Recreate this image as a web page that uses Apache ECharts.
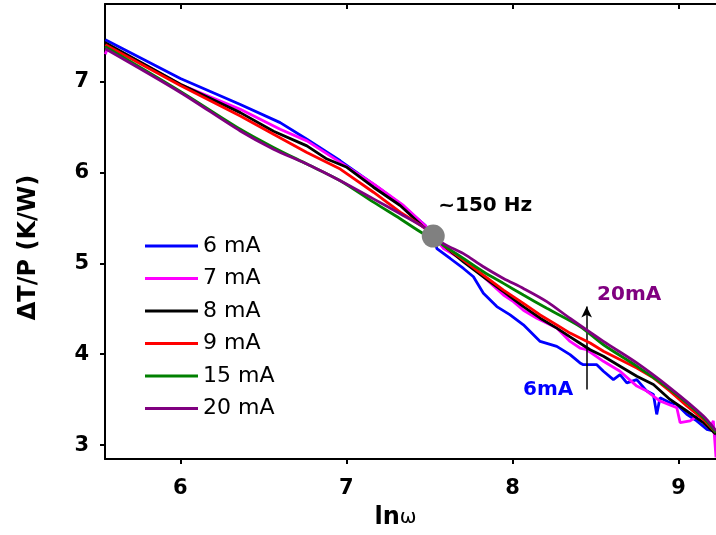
<!DOCTYPE html>
<html>
<head>
<meta charset="utf-8">
<script src="https://cdn.jsdelivr.net/npm/echarts@6/dist/echarts.min.js"></script>
<style>html,body{margin:0;padding:0;background:#fff;}#c{width:716px;height:535px;}</style>
</head>
<body>
<div id="c"></div>
<script>
// ---- data (ln(omega), dT/P in K/W) ----
const seriesNames = ['6 mA', '7 mA', '8 mA', '9 mA', '15 mA', '20 mA'];
const seriesColors = ['#0000ff', '#ff00ff', '#000000', '#ff0000', '#008000', '#800080'];
const seriesSmooth = [false, false, false, false, 0.3, 0.3];

const d6mA = [[5.548,7.460],[6.000,7.033],[6.361,6.748],[6.601,6.548],[6.762,6.365],[6.963,6.128],[7.203,5.818],[7.324,5.654],[7.474,5.417],[7.525,5.30],[7.545,5.162],[7.625,5.053],[7.705,4.943],[7.765,4.852],[7.825,4.670],[7.906,4.524],[7.986,4.432],[8.066,4.323],[8.167,4.141],[8.267,4.086],[8.347,3.995],[8.407,3.904],[8.427,3.885],[8.508,3.885],[8.548,3.813],[8.608,3.721],[8.648,3.776],[8.689,3.685],[8.749,3.721],[8.809,3.594],[8.849,3.557],[8.869,3.338],[8.889,3.521],[8.949,3.466],[8.990,3.447],[9.050,3.338],[9.110,3.266],[9.170,3.174],[9.210,3.156],[9.226,3.083]];
const d7mA = [[5.548,7.30],[5.565,7.39],[5.600,7.37],[6.000,6.967],[6.361,6.694],[6.601,6.475],[6.762,6.347],[6.963,6.110],[7.163,5.873],[7.344,5.636],[7.474,5.417],[7.525,5.30],[7.585,5.162],[7.705,5.034],[7.825,4.852],[7.946,4.651],[8.006,4.579],[8.066,4.484],[8.147,4.396],[8.267,4.287],[8.347,4.141],[8.407,4.068],[8.448,4.049],[8.548,3.922],[8.648,3.813],[8.749,3.649],[8.809,3.594],[8.889,3.485],[8.990,3.411],[9.010,3.247],[9.070,3.266],[9.130,3.338],[9.190,3.193],[9.210,3.266],[9.226,2.864]];
const d8mA = [[5.548,7.427],[6.000,6.970],[6.361,6.658],[6.561,6.454],[6.762,6.292],[6.883,6.147],[7.003,6.056],[7.163,5.837],[7.324,5.636],[7.464,5.400],[7.525,5.30],[7.585,5.198],[7.705,5.016],[7.825,4.852],[7.946,4.688],[8.066,4.524],[8.167,4.396],[8.267,4.287],[8.347,4.190],[8.407,4.120],[8.468,4.049],[8.548,3.977],[8.648,3.868],[8.749,3.758],[8.849,3.666],[8.949,3.502],[9.050,3.375],[9.150,3.247],[9.226,3.119]];
const d9mA = [[5.548,7.405],[6.000,6.956],[6.361,6.620],[6.561,6.420],[6.762,6.220],[6.963,6.037],[7.163,5.782],[7.324,5.563],[7.464,5.399],[7.525,5.30],[7.585,5.198],[7.705,5.034],[7.825,4.870],[7.946,4.705],[8.066,4.560],[8.167,4.432],[8.267,4.323],[8.347,4.232],[8.407,4.177],[8.468,4.123],[8.548,4.032],[8.749,3.849],[8.849,3.740],[8.949,3.594],[9.050,3.430],[9.150,3.283],[9.226,3.138]];
const d15mA = [[5.548,7.383],[6.000,6.891],[6.361,6.475],[6.561,6.275],[6.762,6.092],[6.963,5.909],[7.163,5.673],[7.324,5.490],[7.464,5.326],[7.525,5.28],[7.585,5.198],[7.705,5.053],[7.825,4.907],[7.946,4.779],[8.066,4.651],[8.207,4.505],[8.407,4.305],[8.548,4.104],[8.749,3.868],[8.949,3.612],[9.150,3.302],[9.226,3.138]];
const d20mA = [[5.548,7.361],[6.000,6.880],[6.361,6.456],[6.561,6.256],[6.762,6.092],[6.963,5.909],[7.163,5.709],[7.324,5.545],[7.464,5.399],[7.525,5.31],[7.585,5.217],[7.705,5.107],[7.825,4.962],[7.946,4.834],[8.066,4.724],[8.207,4.579],[8.350,4.390],[8.548,4.141],[8.749,3.904],[8.949,3.630],[9.150,3.320],[9.226,3.156]];
const allData = [d6mA, d7mA, d8mA, d9mA, d15mA, d20mA];

const xTicks = [6, 7, 8, 9];
const yTicks = [3, 4, 5, 6, 7];
const xRange = [5.546, 9.226];
const yRange = [2.847, 7.853];

const crossPoint = [[7.523, 5.30]];
const crossLabel = '~150 Hz';
const crossLabelPos = [[7.553, 5.632]];
const highLabel = '20mA';
const highLabelPos = [[8.510, 4.659]];
const lowLabel = '6mA';
const lowLabelPos = [[8.064, 3.603]];
const arrowFrom = [8.447, 3.612];
const arrowTo = [8.447, 4.524];

// ---- chart ----
const FONT = 'DejaVu Sans';
const chart = echarts.init(document.getElementById('c'), null, {renderer: 'canvas'});

const lineSeries = seriesNames.map((n, i) => ({
  name: n,
  type: 'line',
  data: allData[i],
  showSymbol: false,
  symbol: 'none',
  smooth: seriesSmooth[i],
  lineStyle: {color: seriesColors[i], width: 2.8},
  itemStyle: {color: seriesColors[i]},
  z: 2 + i,
  animation: false
}));

function textSeries(pos, text, color) {
  return {
    type: 'scatter', data: pos, symbolSize: 0, silent: true, animation: false, z: 20,
    itemStyle: {opacity: 1, color: color},
    label: {show: true, position: 'right', distance: 0, formatter: text, opacity: 1,
      fontFamily: FONT, fontWeight: 'bold', fontSize: 20, color: color}
  };
}

const option = {
  backgroundColor: '#fff',
  animation: false,
  grid: {left: 105, top: 4, right: 0, bottom: 73, containLabel: false},
  legend: {
    data: seriesNames,
    orient: 'vertical',
    left: 140, top: 230,
    icon: 'rect',
    itemWidth: 53, itemHeight: 3, itemGap: 10.5,
    textStyle: {fontFamily: FONT, fontSize: 22, lineHeight: 22, color: '#000'},
    selectedMode: false
  },
  xAxis: [{
    type: 'value', min: xRange[0], max: xRange[1],
    name: '{b|ln}{n|ω}', nameLocation: 'middle', nameGap: 47,
    nameTextStyle: {rich: {
      b: {fontFamily: FONT, fontWeight: 'bold', fontSize: 24, color: '#000'},
      n: {fontFamily: FONT, fontSize: 20, color: '#000'}
    }, padding: [0, 30, 0, 0]},
    axisLine: {lineStyle: {color: '#000', width: 2}},
    axisTick: {show: true, inside: false, length: 5, lineStyle: {color: '#000', width: 2}, customValues: xTicks},
    axisLabel: {customValues: xTicks, margin: 19, fontFamily: FONT, fontWeight: 'bold', fontSize: 21, color: '#000'},
    splitLine: {show: false}
  }, {
    type: 'value', min: xRange[0], max: xRange[1], position: 'top',
    axisLine: {show: true, lineStyle: {color: '#000', width: 2}},
    axisTick: {show: true, inside: true, length: 5, lineStyle: {color: '#000', width: 2}, customValues: xTicks},
    axisLabel: {show: false},
    splitLine: {show: false}
  }],
  yAxis: [{
    type: 'value', min: yRange[0], max: yRange[1],
    name: 'ΔT/P (K/W)', nameLocation: 'middle', nameGap: 64,
    nameTextStyle: {fontFamily: FONT, fontWeight: 'bold', fontSize: 24, color: '#000', padding: [0, 32, 0, 0]},
    axisLine: {show: true, lineStyle: {color: '#000', width: 2}},
    axisTick: {show: true, inside: false, length: 5, lineStyle: {color: '#000', width: 2}, customValues: yTicks},
    axisLabel: {customValues: yTicks, margin: 16, fontFamily: FONT, fontWeight: 'bold', fontSize: 21, color: '#000'},
    splitLine: {show: false}
  }],
  series: lineSeries.concat([
    {
      type: 'scatter', data: crossPoint, symbolSize: 23, silent: true, z: 15, animation: false,
      itemStyle: {color: '#808080', opacity: 1}
    },
    textSeries(crossLabelPos, crossLabel, '#000'),
    textSeries(highLabelPos, highLabel, '#800080'),
    textSeries(lowLabelPos, lowLabel, '#0000ff'),
    {
      type: 'line', data: [], silent: true, animation: false, z: 18,
      markLine: {
        silent: true, animation: false,
        symbol: ['none', 'arrow'], symbolSize: [8, 11],
        label: {show: false},
        lineStyle: {color: '#000', width: 1.5, type: 'solid', opacity: 1},
        data: [[{coord: arrowFrom}, {coord: arrowTo}]]
      }
    }
  ])
};
chart.setOption(option);
</script>
</body>
</html>
